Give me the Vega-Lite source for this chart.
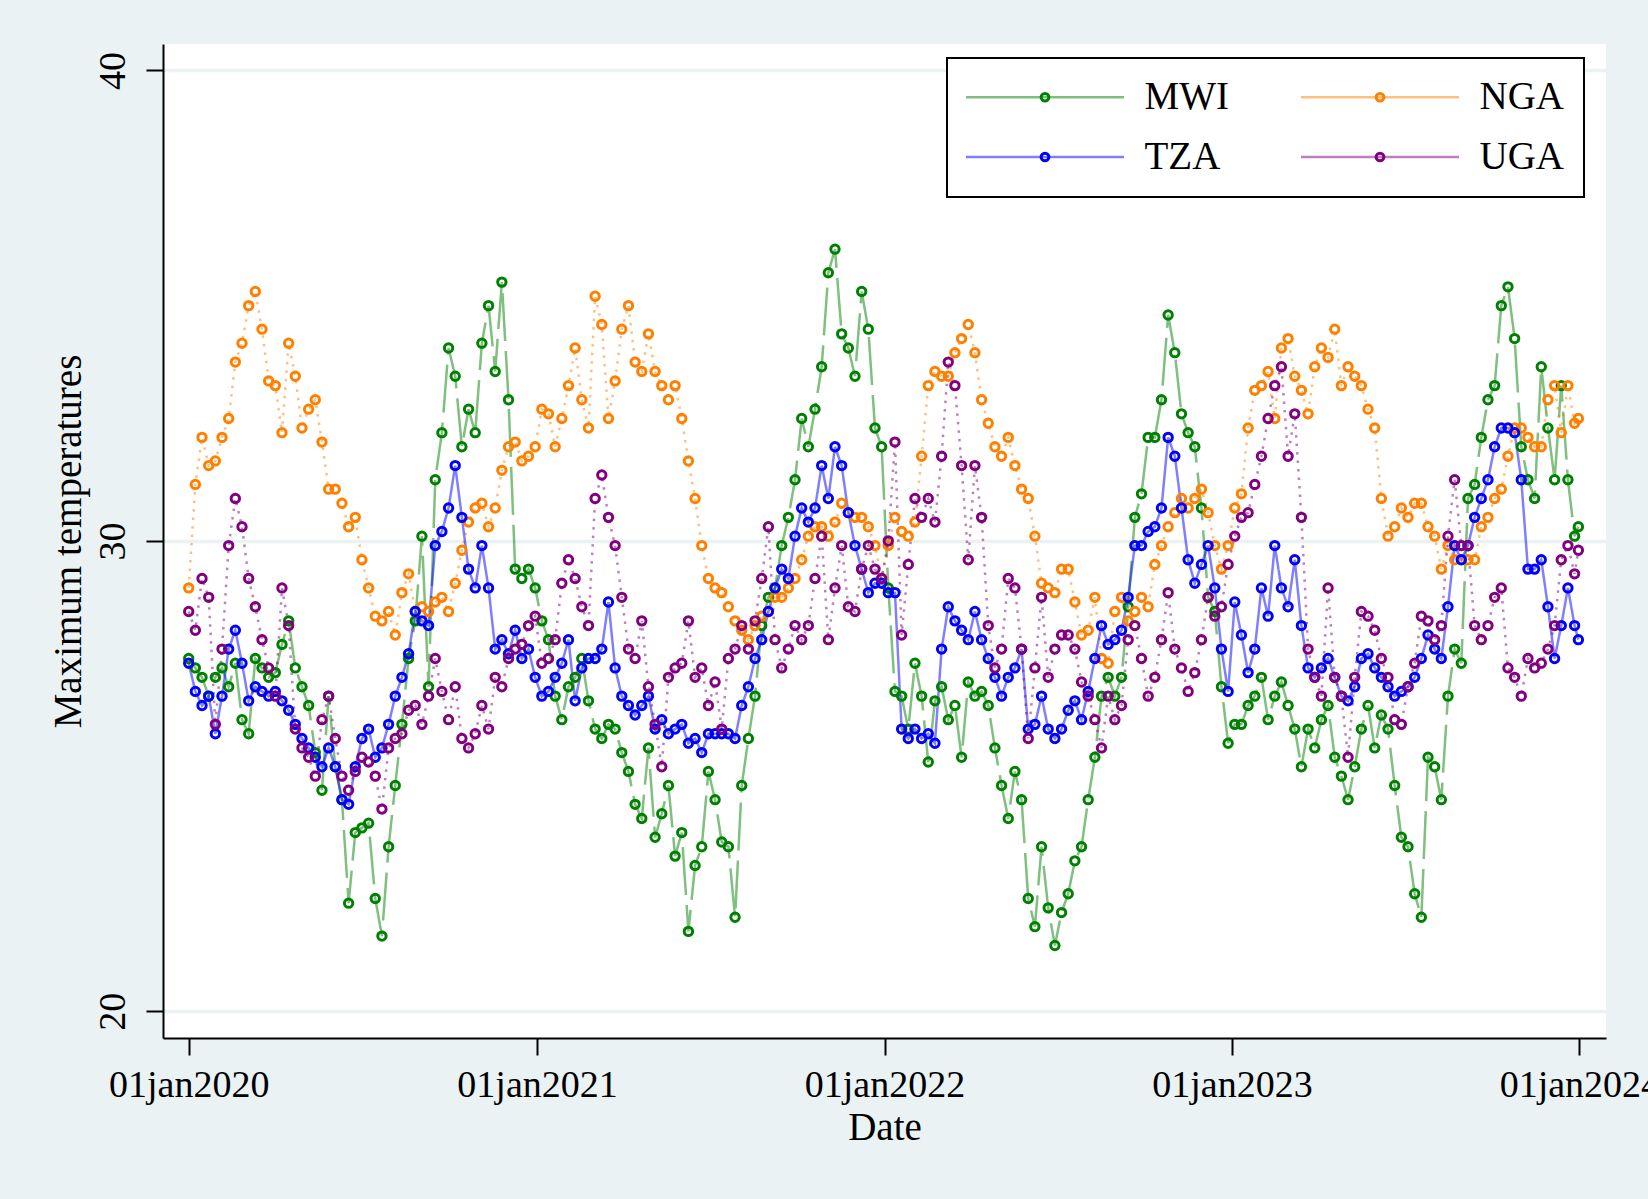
{
  "$schema": "https://vega.github.io/schema/vega-lite/v6.json",
  "width": 1443,
  "height": 994,
  "autosize": {"type": "none"},
  "padding": {"left": 163, "top": 44, "right": 42, "bottom": 161},
  "background": "#eaf2f3",
  "config": {
    "view": {"fill": "white", "stroke": null},
    "font": "Liberation Serif",
    "legend": {"strokeWidth": 2}
  },
  "data": {"values": [
{"d":"2020-01-01","MWI":27.5,"NGA":29.0,"TZA":27.4,"UGA":28.5},
{"d":"2020-01-08","MWI":27.3,"NGA":31.2,"TZA":26.8,"UGA":28.1},
{"d":"2020-01-15","MWI":27.1,"NGA":32.2,"TZA":26.5,"UGA":29.2},
{"d":"2020-01-22","MWI":26.7,"NGA":31.6,"TZA":26.7,"UGA":28.8},
{"d":"2020-01-29","MWI":27.1,"NGA":31.7,"TZA":25.9,"UGA":26.1},
{"d":"2020-02-05","MWI":27.3,"NGA":32.2,"TZA":26.7,"UGA":27.7},
{"d":"2020-02-12","MWI":26.9,"NGA":32.6,"TZA":27.7,"UGA":29.9},
{"d":"2020-02-19","MWI":27.4,"NGA":33.8,"TZA":28.1,"UGA":30.9},
{"d":"2020-02-26","MWI":26.2,"NGA":34.2,"TZA":27.4,"UGA":30.3},
{"d":"2020-03-04","MWI":25.9,"NGA":35.0,"TZA":26.6,"UGA":29.2},
{"d":"2020-03-11","MWI":27.5,"NGA":35.3,"TZA":26.9,"UGA":28.6},
{"d":"2020-03-18","MWI":27.3,"NGA":34.5,"TZA":26.8,"UGA":27.9},
{"d":"2020-03-25","MWI":27.1,"NGA":33.4,"TZA":26.7,"UGA":27.3},
{"d":"2020-04-01","MWI":27.2,"NGA":33.3,"TZA":26.8,"UGA":26.7},
{"d":"2020-04-08","MWI":27.8,"NGA":32.3,"TZA":26.6,"UGA":29.0},
{"d":"2020-04-15","MWI":28.3,"NGA":34.2,"TZA":26.4,"UGA":28.2},
{"d":"2020-04-22","MWI":27.3,"NGA":33.5,"TZA":26.1,"UGA":26.0},
{"d":"2020-04-29","MWI":26.9,"NGA":32.4,"TZA":25.8,"UGA":25.6},
{"d":"2020-05-06","MWI":26.5,"NGA":32.8,"TZA":25.6,"UGA":25.4},
{"d":"2020-05-13","MWI":25.5,"NGA":33.0,"TZA":25.4,"UGA":25.0},
{"d":"2020-05-20","MWI":24.7,"NGA":32.1,"TZA":25.2,"UGA":26.2},
{"d":"2020-05-27","MWI":26.7,"NGA":31.1,"TZA":25.6,"UGA":26.7},
{"d":"2020-06-03","MWI":25.2,"NGA":31.1,"TZA":25.2,"UGA":25.8},
{"d":"2020-06-10","MWI":24.5,"NGA":30.8,"TZA":24.5,"UGA":25.0},
{"d":"2020-06-17","MWI":22.3,"NGA":30.3,"TZA":24.4,"UGA":24.7},
{"d":"2020-06-24","MWI":23.8,"NGA":30.5,"TZA":25.2,"UGA":25.1},
{"d":"2020-07-01","MWI":23.9,"NGA":29.6,"TZA":25.8,"UGA":25.4},
{"d":"2020-07-08","MWI":24.0,"NGA":29.0,"TZA":26.0,"UGA":25.3},
{"d":"2020-07-15","MWI":22.4,"NGA":28.4,"TZA":25.4,"UGA":25.0},
{"d":"2020-07-22","MWI":21.6,"NGA":28.3,"TZA":25.6,"UGA":24.3},
{"d":"2020-07-29","MWI":23.5,"NGA":28.5,"TZA":26.1,"UGA":25.6},
{"d":"2020-08-05","MWI":24.8,"NGA":28.0,"TZA":26.7,"UGA":25.8},
{"d":"2020-08-12","MWI":26.1,"NGA":28.9,"TZA":27.1,"UGA":25.9},
{"d":"2020-08-19","MWI":27.5,"NGA":29.3,"TZA":27.6,"UGA":26.4},
{"d":"2020-08-26","MWI":28.3,"NGA":28.5,"TZA":28.5,"UGA":26.5},
{"d":"2020-09-02","MWI":30.1,"NGA":28.6,"TZA":28.3,"UGA":26.1},
{"d":"2020-09-09","MWI":26.9,"NGA":28.5,"TZA":28.2,"UGA":26.7},
{"d":"2020-09-16","MWI":31.3,"NGA":28.7,"TZA":29.9,"UGA":27.5},
{"d":"2020-09-23","MWI":32.3,"NGA":28.8,"TZA":30.2,"UGA":26.8},
{"d":"2020-09-30","MWI":34.1,"NGA":28.5,"TZA":30.7,"UGA":26.2},
{"d":"2020-10-07","MWI":33.5,"NGA":29.1,"TZA":31.6,"UGA":26.9},
{"d":"2020-10-14","MWI":32.0,"NGA":29.8,"TZA":30.5,"UGA":25.8},
{"d":"2020-10-21","MWI":32.8,"NGA":30.4,"TZA":29.4,"UGA":25.6},
{"d":"2020-10-28","MWI":32.3,"NGA":30.7,"TZA":29.0,"UGA":25.9},
{"d":"2020-11-04","MWI":34.2,"NGA":30.8,"TZA":29.9,"UGA":26.5},
{"d":"2020-11-11","MWI":35.0,"NGA":30.3,"TZA":29.0,"UGA":26.0},
{"d":"2020-11-18","MWI":33.6,"NGA":30.7,"TZA":27.7,"UGA":27.1},
{"d":"2020-11-25","MWI":35.5,"NGA":31.5,"TZA":27.9,"UGA":26.9},
{"d":"2020-12-02","MWI":33.0,"NGA":32.0,"TZA":27.6,"UGA":27.5},
{"d":"2020-12-09","MWI":29.4,"NGA":32.1,"TZA":28.1,"UGA":27.7},
{"d":"2020-12-16","MWI":29.2,"NGA":31.7,"TZA":27.5,"UGA":27.8},
{"d":"2020-12-23","MWI":29.4,"NGA":31.8,"TZA":27.7,"UGA":28.2},
{"d":"2020-12-30","MWI":29.0,"NGA":32.0,"TZA":27.1,"UGA":28.4},
{"d":"2021-01-06","MWI":28.3,"NGA":32.8,"TZA":26.7,"UGA":27.4},
{"d":"2021-01-13","MWI":27.9,"NGA":32.7,"TZA":26.8,"UGA":27.5},
{"d":"2021-01-20","MWI":26.7,"NGA":32.0,"TZA":27.1,"UGA":27.9},
{"d":"2021-01-27","MWI":26.2,"NGA":32.6,"TZA":27.4,"UGA":29.1},
{"d":"2021-02-03","MWI":26.9,"NGA":33.3,"TZA":27.9,"UGA":29.6},
{"d":"2021-02-10","MWI":27.1,"NGA":34.1,"TZA":26.6,"UGA":29.2},
{"d":"2021-02-17","MWI":27.5,"NGA":33.0,"TZA":27.3,"UGA":28.6},
{"d":"2021-02-24","MWI":26.6,"NGA":32.4,"TZA":27.5,"UGA":28.2},
{"d":"2021-03-03","MWI":26.0,"NGA":35.2,"TZA":27.5,"UGA":30.9},
{"d":"2021-03-10","MWI":25.8,"NGA":34.6,"TZA":27.7,"UGA":31.4},
{"d":"2021-03-17","MWI":26.1,"NGA":32.6,"TZA":28.7,"UGA":30.5},
{"d":"2021-03-24","MWI":26.0,"NGA":33.4,"TZA":27.3,"UGA":29.9},
{"d":"2021-03-31","MWI":25.5,"NGA":34.5,"TZA":26.7,"UGA":28.8},
{"d":"2021-04-07","MWI":25.1,"NGA":35.0,"TZA":26.5,"UGA":27.7},
{"d":"2021-04-14","MWI":24.4,"NGA":33.8,"TZA":26.3,"UGA":27.5},
{"d":"2021-04-21","MWI":24.1,"NGA":33.6,"TZA":26.5,"UGA":28.3},
{"d":"2021-04-28","MWI":25.6,"NGA":34.4,"TZA":26.7,"UGA":26.9},
{"d":"2021-05-05","MWI":23.7,"NGA":33.6,"TZA":26.0,"UGA":26.1},
{"d":"2021-05-12","MWI":24.2,"NGA":33.3,"TZA":26.2,"UGA":25.2},
{"d":"2021-05-19","MWI":24.8,"NGA":33.0,"TZA":25.9,"UGA":27.1},
{"d":"2021-05-26","MWI":23.3,"NGA":33.3,"TZA":26.0,"UGA":27.3},
{"d":"2021-06-02","MWI":23.8,"NGA":32.6,"TZA":26.1,"UGA":27.4},
{"d":"2021-06-09","MWI":21.7,"NGA":31.7,"TZA":25.7,"UGA":28.3},
{"d":"2021-06-16","MWI":23.1,"NGA":30.9,"TZA":25.8,"UGA":27.1},
{"d":"2021-06-23","MWI":23.5,"NGA":29.9,"TZA":25.5,"UGA":27.3},
{"d":"2021-06-30","MWI":25.1,"NGA":29.2,"TZA":25.9,"UGA":26.5},
{"d":"2021-07-07","MWI":24.5,"NGA":29.0,"TZA":25.9,"UGA":27.0},
{"d":"2021-07-14","MWI":23.6,"NGA":28.9,"TZA":25.9,"UGA":26.0},
{"d":"2021-07-21","MWI":23.5,"NGA":28.6,"TZA":25.9,"UGA":27.5},
{"d":"2021-07-28","MWI":22.0,"NGA":28.3,"TZA":25.8,"UGA":27.7},
{"d":"2021-08-04","MWI":24.8,"NGA":28.1,"TZA":26.5,"UGA":28.2},
{"d":"2021-08-11","MWI":25.8,"NGA":27.9,"TZA":26.9,"UGA":27.7},
{"d":"2021-08-18","MWI":26.7,"NGA":28.2,"TZA":27.5,"UGA":28.3},
{"d":"2021-08-25","MWI":28.2,"NGA":28.4,"TZA":27.9,"UGA":29.2},
{"d":"2021-09-01","MWI":28.8,"NGA":28.5,"TZA":28.5,"UGA":30.3},
{"d":"2021-09-08","MWI":29.0,"NGA":28.8,"TZA":29.0,"UGA":27.9},
{"d":"2021-09-15","MWI":29.9,"NGA":28.8,"TZA":29.4,"UGA":27.3},
{"d":"2021-09-22","MWI":30.5,"NGA":29.0,"TZA":29.2,"UGA":27.7},
{"d":"2021-09-29","MWI":31.3,"NGA":29.2,"TZA":30.1,"UGA":28.2},
{"d":"2021-10-06","MWI":32.6,"NGA":29.6,"TZA":30.7,"UGA":27.9},
{"d":"2021-10-13","MWI":32.0,"NGA":30.1,"TZA":30.4,"UGA":28.2},
{"d":"2021-10-20","MWI":32.8,"NGA":30.3,"TZA":30.7,"UGA":29.2},
{"d":"2021-10-27","MWI":33.7,"NGA":30.3,"TZA":31.6,"UGA":30.1},
{"d":"2021-11-03","MWI":35.7,"NGA":30.1,"TZA":30.9,"UGA":27.9},
{"d":"2021-11-10","MWI":36.2,"NGA":30.4,"TZA":32.0,"UGA":29.0},
{"d":"2021-11-17","MWI":34.4,"NGA":30.8,"TZA":31.6,"UGA":29.9},
{"d":"2021-11-24","MWI":34.1,"NGA":30.6,"TZA":30.6,"UGA":28.6},
{"d":"2021-12-01","MWI":33.5,"NGA":30.5,"TZA":29.9,"UGA":28.5},
{"d":"2021-12-08","MWI":35.3,"NGA":30.5,"TZA":29.4,"UGA":29.4},
{"d":"2021-12-15","MWI":34.5,"NGA":30.3,"TZA":28.9,"UGA":29.9},
{"d":"2021-12-22","MWI":32.4,"NGA":29.9,"TZA":29.1,"UGA":29.4},
{"d":"2021-12-29","MWI":32.0,"NGA":29.2,"TZA":29.1,"UGA":29.2},
{"d":"2022-01-05","MWI":29.0,"NGA":29.9,"TZA":28.9,"UGA":30.0},
{"d":"2022-01-12","MWI":26.8,"NGA":30.5,"TZA":28.9,"UGA":32.1},
{"d":"2022-01-19","MWI":26.7,"NGA":30.2,"TZA":26.0,"UGA":28.0},
{"d":"2022-01-26","MWI":26.0,"NGA":30.1,"TZA":25.8,"UGA":29.5},
{"d":"2022-02-02","MWI":27.4,"NGA":30.4,"TZA":26.0,"UGA":30.9},
{"d":"2022-02-09","MWI":26.7,"NGA":31.8,"TZA":25.8,"UGA":30.5},
{"d":"2022-02-16","MWI":25.3,"NGA":33.3,"TZA":25.9,"UGA":30.9},
{"d":"2022-02-23","MWI":26.6,"NGA":33.6,"TZA":25.7,"UGA":30.4},
{"d":"2022-03-02","MWI":26.9,"NGA":33.5,"TZA":27.7,"UGA":31.8},
{"d":"2022-03-09","MWI":26.2,"NGA":33.5,"TZA":28.6,"UGA":33.8},
{"d":"2022-03-16","MWI":26.5,"NGA":34.0,"TZA":28.3,"UGA":33.3},
{"d":"2022-03-23","MWI":25.4,"NGA":34.3,"TZA":28.1,"UGA":31.6},
{"d":"2022-03-30","MWI":27.0,"NGA":34.6,"TZA":27.9,"UGA":29.6},
{"d":"2022-04-06","MWI":26.7,"NGA":34.0,"TZA":28.5,"UGA":31.6},
{"d":"2022-04-13","MWI":26.8,"NGA":33.0,"TZA":27.9,"UGA":30.5},
{"d":"2022-04-20","MWI":26.5,"NGA":32.5,"TZA":27.5,"UGA":28.2},
{"d":"2022-04-27","MWI":25.6,"NGA":32.0,"TZA":27.1,"UGA":27.3},
{"d":"2022-05-04","MWI":24.8,"NGA":31.8,"TZA":26.7,"UGA":27.7},
{"d":"2022-05-11","MWI":24.1,"NGA":32.2,"TZA":27.1,"UGA":29.2},
{"d":"2022-05-18","MWI":25.1,"NGA":31.6,"TZA":27.3,"UGA":29.0},
{"d":"2022-05-25","MWI":24.5,"NGA":31.1,"TZA":27.7,"UGA":27.7},
{"d":"2022-06-01","MWI":22.4,"NGA":30.9,"TZA":26.0,"UGA":25.8},
{"d":"2022-06-08","MWI":21.8,"NGA":30.1,"TZA":26.1,"UGA":27.3},
{"d":"2022-06-15","MWI":23.5,"NGA":29.1,"TZA":26.7,"UGA":28.8},
{"d":"2022-06-22","MWI":22.2,"NGA":29.0,"TZA":26.0,"UGA":27.1},
{"d":"2022-06-29","MWI":21.4,"NGA":28.9,"TZA":25.8,"UGA":27.7},
{"d":"2022-07-06","MWI":22.1,"NGA":29.4,"TZA":26.0,"UGA":28.0},
{"d":"2022-07-13","MWI":22.5,"NGA":29.4,"TZA":26.4,"UGA":28.0},
{"d":"2022-07-20","MWI":23.2,"NGA":28.7,"TZA":26.6,"UGA":27.7},
{"d":"2022-07-27","MWI":23.5,"NGA":28.0,"TZA":26.2,"UGA":27.0},
{"d":"2022-08-03","MWI":24.5,"NGA":28.1,"TZA":26.8,"UGA":26.7},
{"d":"2022-08-10","MWI":25.4,"NGA":28.8,"TZA":27.5,"UGA":26.2},
{"d":"2022-08-17","MWI":26.7,"NGA":27.5,"TZA":28.2,"UGA":25.6},
{"d":"2022-08-24","MWI":27.1,"NGA":27.4,"TZA":27.8,"UGA":26.7},
{"d":"2022-08-31","MWI":26.7,"NGA":28.5,"TZA":27.9,"UGA":26.2},
{"d":"2022-09-07","MWI":27.1,"NGA":28.8,"TZA":28.1,"UGA":26.5},
{"d":"2022-09-14","MWI":28.6,"NGA":28.3,"TZA":28.8,"UGA":27.9},
{"d":"2022-09-21","MWI":30.5,"NGA":28.5,"TZA":29.9,"UGA":28.2},
{"d":"2022-09-28","MWI":31.0,"NGA":28.8,"TZA":29.9,"UGA":27.5},
{"d":"2022-10-05","MWI":32.2,"NGA":28.6,"TZA":30.2,"UGA":26.7},
{"d":"2022-10-12","MWI":32.2,"NGA":29.5,"TZA":30.3,"UGA":27.1},
{"d":"2022-10-19","MWI":33.0,"NGA":29.9,"TZA":30.7,"UGA":27.9},
{"d":"2022-10-26","MWI":34.8,"NGA":30.3,"TZA":32.2,"UGA":28.9},
{"d":"2022-11-02","MWI":34.0,"NGA":30.6,"TZA":31.8,"UGA":27.7},
{"d":"2022-11-09","MWI":32.7,"NGA":30.9,"TZA":30.7,"UGA":27.3},
{"d":"2022-11-16","MWI":32.3,"NGA":30.7,"TZA":29.6,"UGA":26.8},
{"d":"2022-11-23","MWI":32.0,"NGA":30.9,"TZA":29.1,"UGA":27.2},
{"d":"2022-11-30","MWI":30.7,"NGA":31.1,"TZA":29.5,"UGA":27.9},
{"d":"2022-12-07","MWI":28.8,"NGA":30.6,"TZA":29.9,"UGA":28.8},
{"d":"2022-12-14","MWI":28.5,"NGA":29.9,"TZA":29.0,"UGA":28.4},
{"d":"2022-12-21","MWI":26.9,"NGA":29.4,"TZA":27.7,"UGA":28.6},
{"d":"2022-12-28","MWI":25.7,"NGA":29.9,"TZA":26.8,"UGA":29.5},
{"d":"2023-01-04","MWI":26.1,"NGA":30.7,"TZA":28.7,"UGA":30.1},
{"d":"2023-01-11","MWI":26.1,"NGA":31.0,"TZA":28.0,"UGA":30.5},
{"d":"2023-01-18","MWI":26.5,"NGA":32.4,"TZA":27.2,"UGA":30.6},
{"d":"2023-01-25","MWI":26.7,"NGA":33.2,"TZA":27.7,"UGA":31.2},
{"d":"2023-02-01","MWI":27.1,"NGA":33.3,"TZA":29.0,"UGA":31.8},
{"d":"2023-02-08","MWI":26.2,"NGA":33.6,"TZA":28.4,"UGA":32.6},
{"d":"2023-02-15","MWI":26.7,"NGA":32.6,"TZA":29.9,"UGA":33.3},
{"d":"2023-02-22","MWI":27.0,"NGA":34.1,"TZA":29.0,"UGA":33.7},
{"d":"2023-03-01","MWI":26.5,"NGA":34.3,"TZA":28.6,"UGA":31.8},
{"d":"2023-03-08","MWI":26.0,"NGA":33.5,"TZA":29.6,"UGA":32.7},
{"d":"2023-03-15","MWI":25.2,"NGA":33.2,"TZA":28.2,"UGA":30.5},
{"d":"2023-03-22","MWI":26.0,"NGA":32.7,"TZA":27.3,"UGA":27.7},
{"d":"2023-03-29","MWI":25.6,"NGA":33.7,"TZA":27.1,"UGA":27.1},
{"d":"2023-04-05","MWI":26.2,"NGA":34.1,"TZA":27.3,"UGA":26.7},
{"d":"2023-04-12","MWI":26.5,"NGA":33.9,"TZA":27.5,"UGA":29.0},
{"d":"2023-04-19","MWI":25.4,"NGA":34.5,"TZA":27.1,"UGA":27.1},
{"d":"2023-04-26","MWI":25.0,"NGA":33.3,"TZA":26.7,"UGA":26.7},
{"d":"2023-05-03","MWI":24.5,"NGA":33.7,"TZA":26.6,"UGA":25.4},
{"d":"2023-05-10","MWI":25.2,"NGA":33.5,"TZA":26.9,"UGA":27.1},
{"d":"2023-05-17","MWI":26.0,"NGA":33.3,"TZA":27.5,"UGA":28.5},
{"d":"2023-05-24","MWI":26.5,"NGA":32.8,"TZA":27.6,"UGA":28.4},
{"d":"2023-05-31","MWI":25.6,"NGA":32.4,"TZA":27.3,"UGA":28.1},
{"d":"2023-06-07","MWI":26.3,"NGA":30.9,"TZA":27.1,"UGA":27.5},
{"d":"2023-06-14","MWI":26.0,"NGA":30.1,"TZA":26.9,"UGA":27.1},
{"d":"2023-06-21","MWI":24.8,"NGA":30.3,"TZA":26.7,"UGA":26.2},
{"d":"2023-06-28","MWI":23.7,"NGA":30.7,"TZA":26.8,"UGA":26.1},
{"d":"2023-07-05","MWI":23.5,"NGA":30.5,"TZA":26.9,"UGA":26.9},
{"d":"2023-07-12","MWI":22.5,"NGA":30.8,"TZA":27.1,"UGA":27.4},
{"d":"2023-07-19","MWI":22.0,"NGA":30.8,"TZA":27.5,"UGA":28.4},
{"d":"2023-07-26","MWI":25.4,"NGA":30.3,"TZA":28.0,"UGA":28.3},
{"d":"2023-08-02","MWI":25.2,"NGA":30.1,"TZA":27.7,"UGA":27.9},
{"d":"2023-08-09","MWI":24.5,"NGA":29.4,"TZA":27.5,"UGA":28.2},
{"d":"2023-08-16","MWI":26.7,"NGA":29.9,"TZA":28.6,"UGA":30.1},
{"d":"2023-08-23","MWI":27.7,"NGA":29.6,"TZA":29.9,"UGA":31.3},
{"d":"2023-08-30","MWI":27.4,"NGA":29.9,"TZA":29.6,"UGA":29.9},
{"d":"2023-09-06","MWI":30.9,"NGA":29.6,"TZA":29.9,"UGA":29.9},
{"d":"2023-09-13","MWI":31.2,"NGA":29.6,"TZA":30.5,"UGA":28.2},
{"d":"2023-09-20","MWI":32.2,"NGA":30.3,"TZA":30.9,"UGA":27.9},
{"d":"2023-09-27","MWI":33.0,"NGA":30.5,"TZA":31.3,"UGA":28.2},
{"d":"2023-10-04","MWI":33.3,"NGA":30.9,"TZA":32.0,"UGA":28.8},
{"d":"2023-10-11","MWI":35.0,"NGA":31.1,"TZA":32.4,"UGA":29.0},
{"d":"2023-10-18","MWI":35.4,"NGA":31.8,"TZA":32.4,"UGA":27.3},
{"d":"2023-10-25","MWI":34.3,"NGA":32.4,"TZA":32.3,"UGA":27.1},
{"d":"2023-11-01","MWI":32.0,"NGA":32.4,"TZA":31.3,"UGA":26.7},
{"d":"2023-11-08","MWI":31.3,"NGA":32.2,"TZA":29.4,"UGA":27.5},
{"d":"2023-11-15","MWI":30.9,"NGA":32.0,"TZA":29.4,"UGA":27.3},
{"d":"2023-11-22","MWI":33.7,"NGA":32.0,"TZA":29.6,"UGA":27.4},
{"d":"2023-11-29","MWI":32.4,"NGA":33.0,"TZA":28.6,"UGA":27.7},
{"d":"2023-12-06","MWI":31.3,"NGA":33.3,"TZA":27.5,"UGA":28.2},
{"d":"2023-12-13","MWI":33.3,"NGA":32.3,"TZA":28.2,"UGA":29.6},
{"d":"2023-12-20","MWI":31.3,"NGA":33.3,"TZA":29.0,"UGA":29.9},
{"d":"2023-12-27","MWI":30.1,"NGA":32.5,"TZA":28.2,"UGA":29.3},
{"d":"2023-12-31","MWI":30.3,"NGA":32.6,"TZA":27.9,"UGA":29.8}
  ]},
  "transform": [{"fold": ["MWI", "NGA", "TZA", "UGA"], "as": ["s", "v"]}],
  "encoding": {
    "x": {
      "field": "d", "type": "temporal",
      "scale": {"type": "utc", "domain": [{"year": 2019, "month": 12, "date": 5, "utc": true}, {"year": 2024, "month": 1, "date": 29, "utc": true}]},
      "axis": {
        "title": "Date",
        "values": [{"year": 2020, "month": 1, "date": 1, "utc": true}, {"year": 2021, "month": 1, "date": 1, "utc": true}, {"year": 2022, "month": 1, "date": 1, "utc": true}, {"year": 2023, "month": 1, "date": 1, "utc": true}, {"year": 2024, "month": 1, "date": 1, "utc": true}],
        "labelExpr": "'01jan' + utcFormat(datum.value, '%Y')",
        "grid": false,
        "domainColor": "black", "domainWidth": 2,
        "tickColor": "black", "tickWidth": 2, "tickSize": 17,
        "labelFlush": false, "labelOverlap": false, "labelBound": false,
        "labelAngle": 0,
        "labelPadding": 11,
        "labelFont": "Liberation Serif", "labelFontSize": 38, "labelColor": "black",
        "titleFont": "Liberation Serif", "titleFontSize": 39, "titleFontWeight": "normal", "titleColor": "black",
        "titlePadding": 4
      }
    },
    "y": {
      "field": "v", "type": "quantitative",
      "scale": {"domain": [19.434, 40.561], "nice": false, "zero": false},
      "axis": {
        "title": "Maximum temperatures",
        "values": [20, 30, 40],
        "grid": true, "gridColor": "#eaf2f3", "gridWidth": 3.5,
        "domainColor": "black", "domainWidth": 2,
        "tickColor": "black", "tickWidth": 2, "tickSize": 17,
        "labelAngle": -90, "labelAlign": "center", "labelBaseline": "bottom",
        "labelPadding": 14,
        "labelFont": "Liberation Serif", "labelFontSize": 38, "labelColor": "black",
        "titleFont": "Liberation Serif", "titleFontSize": 39, "titleFontWeight": "normal", "titleColor": "black",
        "titlePadding": 6
      }
    }
  },
  "layer": [
    {
      "mark": {"type": "line", "strokeWidth": 2.5, "opacity": 0.5},
      "encoding": {
        "color": {
          "field": "s", "type": "nominal",
          "scale": {"domain": ["MWI", "TZA", "NGA", "UGA"], "range": ["#008000", "#0000ff", "#ff8000", "#800080"]},
          "legend": {"orient": "none", "legendX": 784, "legendY": 14, "columns": 2, "title": null, "symbolType": "M-4,0H27.6", "symbolSize": 100, "symbolStrokeWidth": 2.5, "labelFont": "Liberation Serif", "labelFontSize": 39, "labelColor": "black", "labelOffset": 139, "columnPadding": 66, "rowPadding": 20, "padding": 19.5, "strokeColor": "black", "fillColor": "white"}
        },
        "strokeDash": {
          "field": "s", "type": "nominal",
          "scale": {"domain": ["MWI", "TZA", "NGA", "UGA"], "range": [[48, 10], [1, 0], [2.5, 6], [2.5, 6]]},
          "legend": {"orient": "none", "legendX": 784, "legendY": 14, "columns": 2, "title": null, "symbolType": "M-4,0H27.6", "symbolSize": 100, "symbolStrokeWidth": 2.5, "labelFont": "Liberation Serif", "labelFontSize": 39, "labelColor": "black", "labelOffset": 139, "columnPadding": 66, "rowPadding": 20, "padding": 19.5, "strokeColor": "black", "fillColor": "white"}
        }
      }
    },
    {
      "mark": {"type": "point", "shape": "circle", "filled": false, "size": 70, "strokeWidth": 3, "opacity": 1},
      "encoding": {
        "color": {
          "field": "s", "type": "nominal",
          "scale": {"domain": ["MWI", "TZA", "NGA", "UGA"], "range": ["#008000", "#0000ff", "#ff8000", "#800080"]},
          "legend": {"orient": "none", "legendX": 843, "legendY": 14, "columns": 2, "title": null, "symbolType": "circle", "symbolSize": 60, "symbolStrokeWidth": 3, "labelFont": "Liberation Serif", "labelFontSize": 39, "labelColor": "rgba(0,0,0,0)", "labelExpr": "' '", "labelOffset": 139, "columnPadding": 157, "rowPadding": 20, "padding": 19.5, "strokeColor": null, "fillColor": null}
        },
        "order": {"field": "s", "type": "nominal"}
      }
    }
  ],
  "resolve": {"scale": {"color": "independent"}, "legend": {"color": "independent"}}
}
